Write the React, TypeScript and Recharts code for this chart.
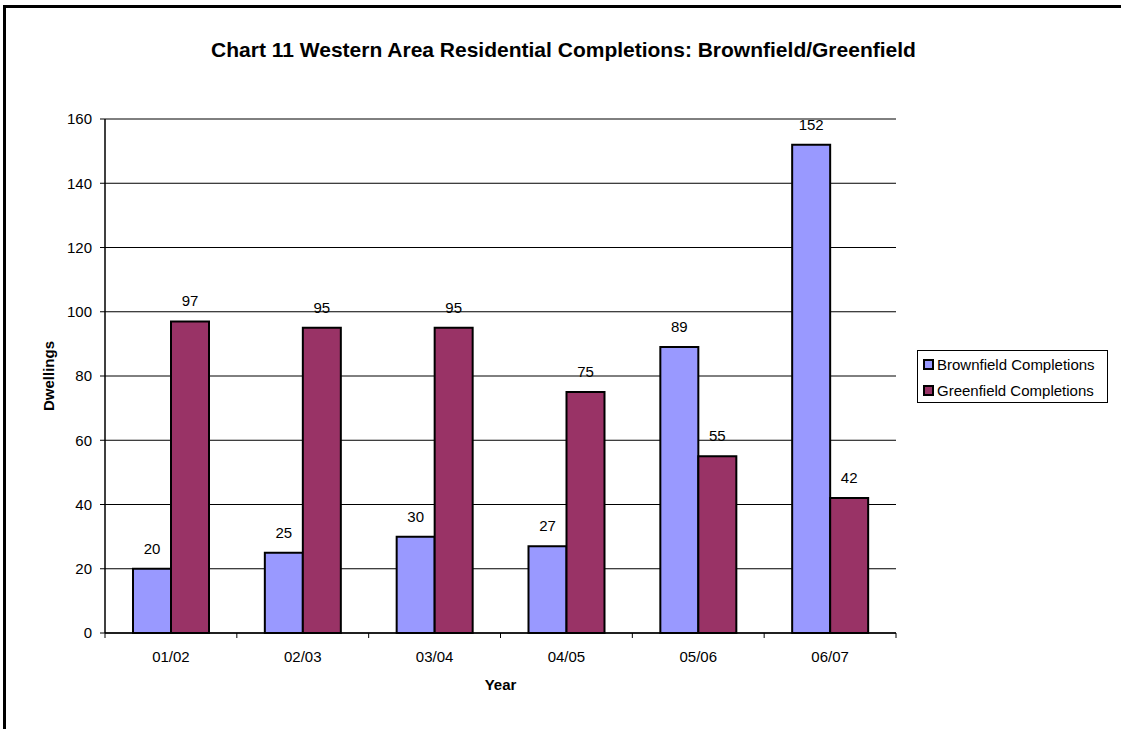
import React from "react";
import {
  BarChart,
  Bar,
  XAxis,
  YAxis,
  CartesianGrid,
  LabelList,
  Label,
} from "recharts";

const years = ["01/02", "02/03", "03/04", "04/05", "05/06", "06/07"];
const brownfield = [20, 25, 30, 27, 89, 152];
const greenfield = [97, 95, 95, 75, 55, 42];
const yTicks = [0, 20, 40, 60, 80, 100, 120, 140, 160];

const data = years.map((year, i) => ({
  year,
  brownfield: brownfield[i],
  greenfield: greenfield[i],
}));

const series = [
  { key: "brownfield", name: "Brownfield Completions", color: "#9999FF" },
  { key: "greenfield", name: "Greenfield Completions", color: "#993366" },
];

const FONT = "'Liberation Sans', Arial, sans-serif";
const TEXT = 15;

// category label plus a tick mark on the band boundary
const YearTick = (props: any) => {
  const { x, y, payload, index, visibleTicksCount } = props;
  const half = payload?.offset ?? 0;
  const last = index === visibleTicksCount - 1;
  return (
    <g>
      <line x1={x - half} x2={x - half} y1={y} y2={y + 5} stroke="#000" />
      {last && (
        <line x1={x + half} x2={x + half} y1={y} y2={y + 5} stroke="#000" />
      )}
      <text
        x={x}
        y={y + 29}
        textAnchor="middle"
        fontSize={TEXT}
        fontFamily={FONT}
        fill="#000"
      >
        {payload.value}
      </text>
    </g>
  );
};

const LegendBox = () => (
  <div
    style={{
      position: "absolute",
      left: 917,
      top: 350,
      width: 191,
      height: 53,
      border: "1px solid #000",
      boxSizing: "border-box",
      padding: "0 0 0 5px",
      fontFamily: FONT,
      fontSize: TEXT,
      background: "#fff",
    }}
  >
    {series.map((s) => (
      <div
        key={s.key}
        style={{ display: "flex", alignItems: "center", height: 26 }}
      >
        <span
          style={{
            width: 7,
            height: 7,
            border: "2px solid #000",
            background: s.color,
            marginRight: 3,
            display: "inline-block",
          }}
        />
        <span>{s.name}</span>
      </div>
    ))}
  </div>
);

export default function App() {
  return (
    <div
      style={{
        position: "absolute",
        left: 0,
        top: 0,
        width: 1121,
        height: 729,
        overflow: "hidden",
        background: "#fff",
      }}
    >
      {/* outer frame: only the top and left edges fall inside the page */}
      <div
        style={{
          position: "absolute",
          left: 3,
          top: 5,
          width: 1118,
          height: 3,
          background: "#000",
        }}
      />
      <div
        style={{
          position: "absolute",
          left: 3,
          top: 5,
          width: 3,
          height: 724,
          background: "#000",
        }}
      />
      <div
        style={{
          position: "absolute",
          left: 3,
          top: 38,
          width: 1121,
          textAlign: "center",
          fontFamily: FONT,
          fontWeight: "bold",
          fontSize: 21,
          whiteSpace: "nowrap",
        }}
      >
        Chart 11 Western Area Residential Completions: Brownfield/Greenfield
      </div>
      <BarChart
        width={1121}
        height={729}
        data={data}
        margin={{ top: 119, right: 225, bottom: 0, left: 0 }}
        barGap={0}
        style={{ position: "absolute", left: 0, top: 0 }}
      >
        <CartesianGrid vertical={false} stroke="#000" />
        <XAxis
          dataKey="year"
          height={96}
          axisLine={{ stroke: "#000", strokeWidth: 1.5 }}
          tickLine={false}
          tickSize={0}
          tickMargin={0}
          tick={<YearTick />}
          interval={0}
        >
          <Label
            value="Year"
            position="center"
            dy={4}
            fontFamily={FONT}
            fontSize={TEXT}
            fontWeight="bold"
            fill="#000"
          />
        </XAxis>
        <XAxis
          xAxisId="top"
          dataKey="year"
          orientation="top"
          height={0}
          tick={false}
          tickLine={false}
          axisLine={{ stroke: "#808080", strokeWidth: 2 }}
        />
        <YAxis
          width={105}
          domain={[0, 160]}
          ticks={yTicks}
          interval={0}
          tickSize={5}
          tickMargin={8}
          axisLine={{ stroke: "#000", strokeWidth: 1.5 }}
          tickLine={{ stroke: "#000" }}
          tick={{ fontSize: TEXT, fontFamily: FONT, fill: "#000" }}
        >
          <Label
            value="Dwellings"
            angle={-90}
            position="center"
            dx={-4}
            fontFamily={FONT}
            fontSize={TEXT}
            fontWeight="bold"
            fill="#000"
          />
        </YAxis>
        <YAxis
          yAxisId="right"
          orientation="right"
          width={0}
          domain={[0, 160]}
          tick={false}
          tickLine={false}
          axisLine={{ stroke: "#808080", strokeWidth: 2 }}
        />
        {series.map((s) => (
          <Bar
            key={s.key}
            dataKey={s.key}
            name={s.name}
            fill={s.color}
            stroke="#000"
            strokeWidth={2}
            barSize={38}
            isAnimationActive={false}
          >
            <LabelList
              dataKey={s.key}
              position="top"
              offset={15}
              fontSize={TEXT}
              fontFamily={FONT}
              fill="#000"
            />
          </Bar>
        ))}
      </BarChart>
      <LegendBox />
    </div>
  );
}
